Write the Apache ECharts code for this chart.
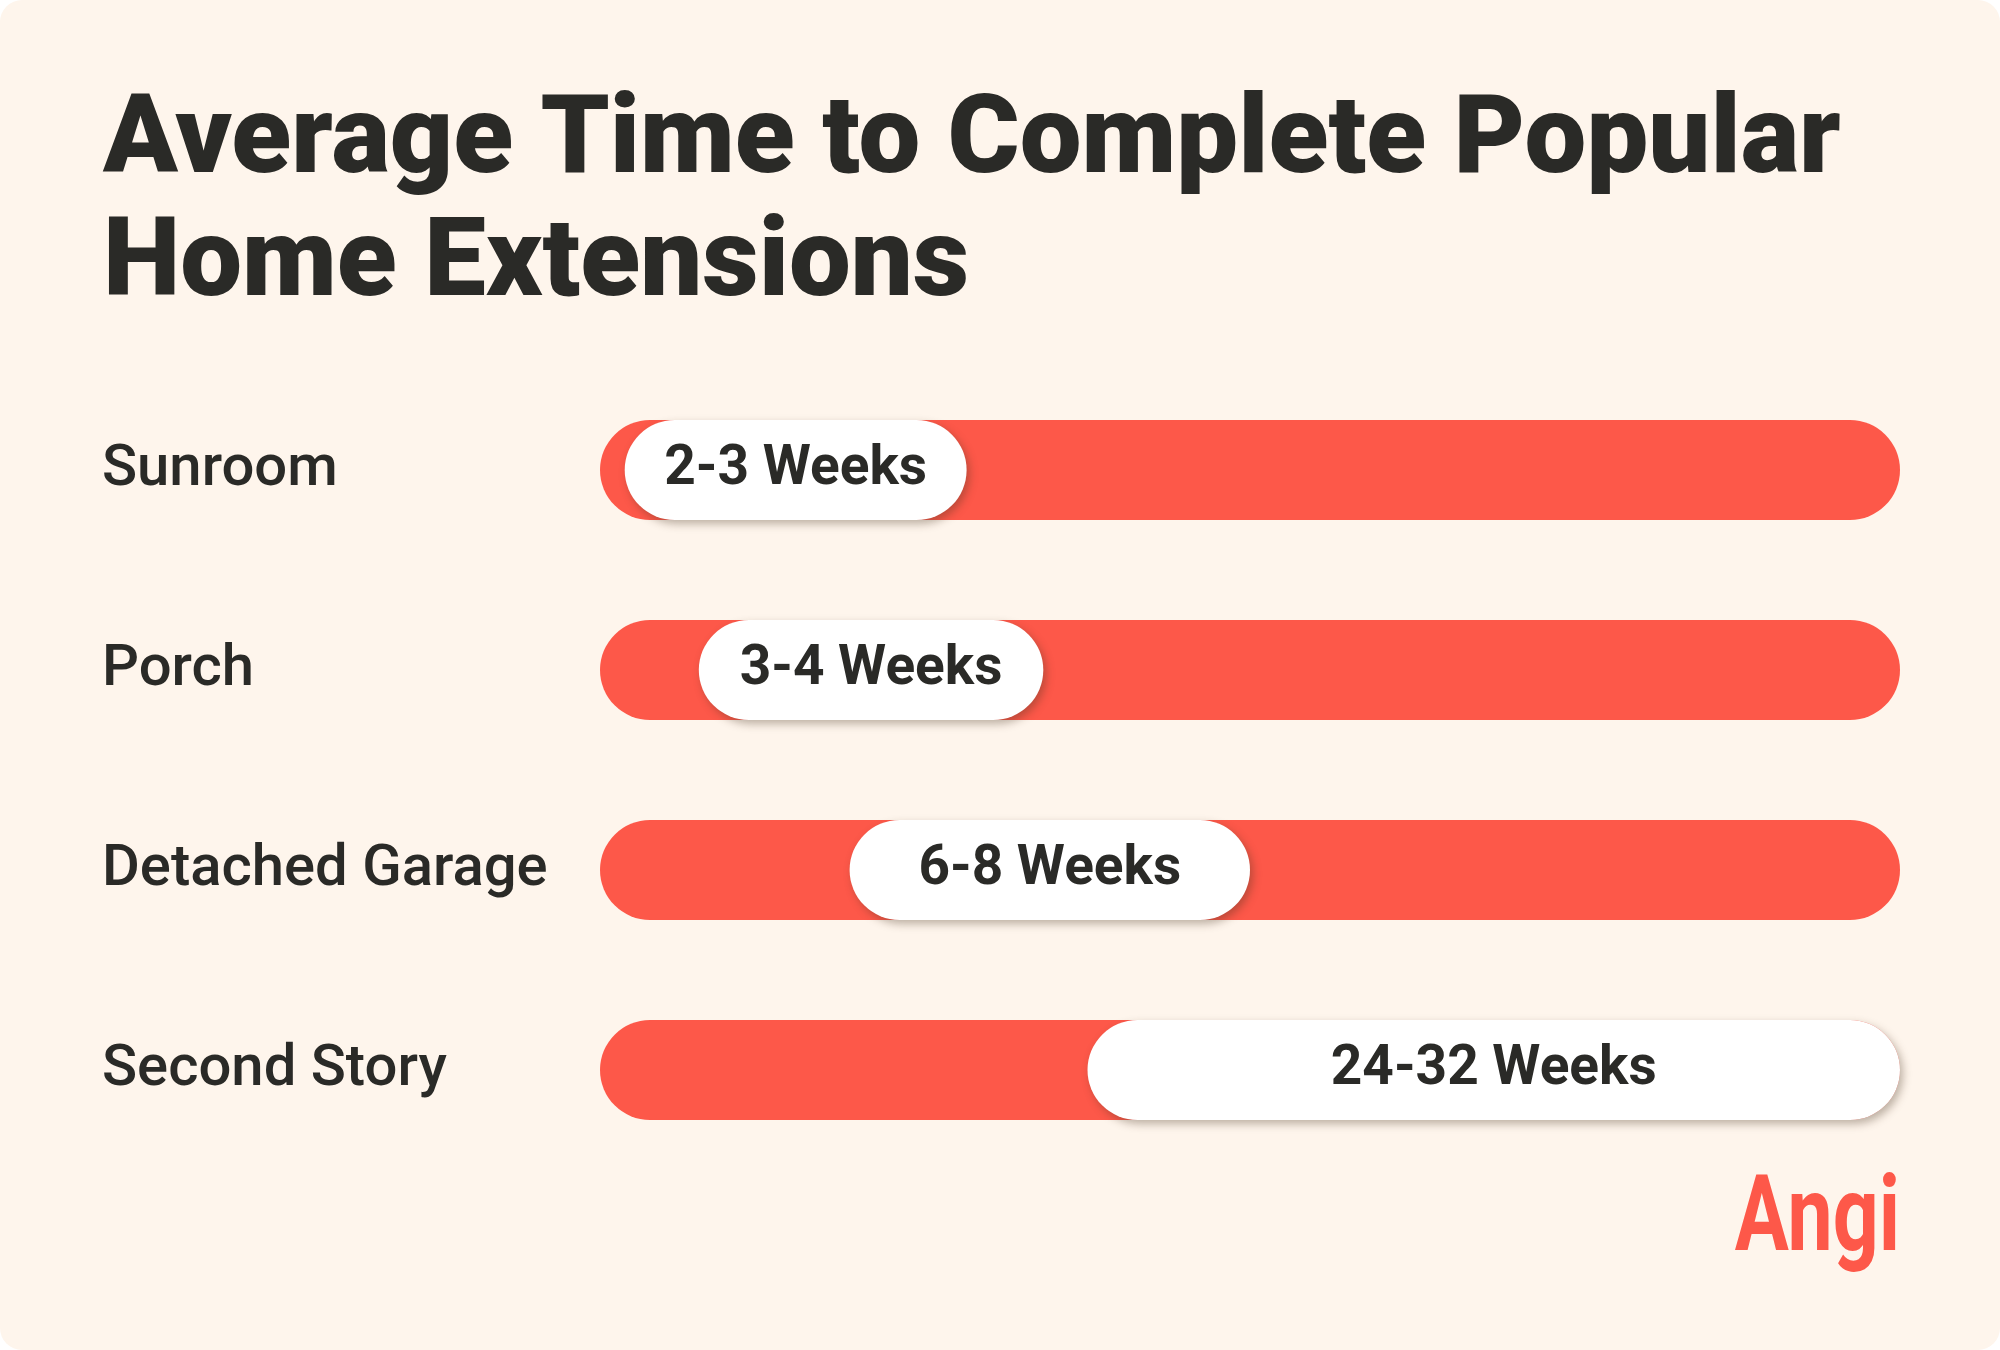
<!DOCTYPE html>
<html>
<head>
<meta charset="utf-8">
<script src="https://cdn.jsdelivr.net/npm/echarts@6/dist/echarts.min.js"></script>
<style>
  html, body { margin: 0; padding: 0; background: #ffffff; }
  #chart { width: 2000px; height: 1350px; border-radius: 22px; overflow: hidden; background: #FEF5EC; }
</style>
</head>
<body>
<div id="chart"></div>
<script>
// ---- data ----
const titleText = 'Average Time to Complete Popular\nHome Extensions';
const categories = ['Sunroom', 'Porch', 'Detached Garage', 'Second Story'];
const weeksLow = [2, 3, 6, 24];
const weeksHigh = [3, 4, 8, 32];
// pill extents, as percent of the full track
const trackMax = 100;
const pillStart = [1.9, 7.6, 19.2, 37.5];
const pillEnd = [28.2, 34.1, 50, 100];

const CORAL = '#FD5849';
const INK = '#2A2A27';

const chart = echarts.init(document.getElementById('chart'), null, { renderer: 'canvas' });

const option = {
  backgroundColor: 'transparent',
  animation: false,
  title: {
    text: titleText,
    left: 98,
    top: 78,
    textStyle: {
      fontFamily: 'Roboto',
      fontWeight: 900,
      fontSize: 110,
      lineHeight: 123,
      color: INK
    }
  },
  grid: { left: 600, right: 100, top: 370, bottom: 180, containLabel: false },
  xAxis: {
    type: 'value', min: 0, max: trackMax, show: false
  },
  yAxis: {
    type: 'category',
    data: categories,
    inverse: true,
    axisLine: { show: false },
    axisTick: { show: false },
    splitLine: { show: false },
    axisLabel: {
      align: 'left',
      margin: 498,
      padding: [12, 0, 0, 0],
      fontFamily: 'Roboto',
      fontWeight: 500,
      fontSize: 58,
      color: INK
    }
  },
  series: [
    {
      name: 'track',
      type: 'bar',
      barWidth: 100,
      barGap: '-100%',
      silent: true,
      itemStyle: { color: CORAL, borderRadius: 50 },
      data: categories.map(() => trackMax)
    },
    {
      name: 'offset',
      type: 'bar',
      stack: 'pill',
      barWidth: 100,
      barGap: '-100%',
      silent: true,
      itemStyle: { color: 'rgba(0,0,0,0)' },
      data: pillStart
    },
    {
      name: 'range',
      type: 'bar',
      stack: 'pill',
      barWidth: 100,
      barGap: '-100%',
      itemStyle: {
        color: '#FFFFFF',
        borderRadius: 50,
        shadowColor: 'rgba(70,50,30,0.35)',
        shadowBlur: 8,
        shadowOffsetX: 3,
        shadowOffsetY: 4
      },
      label: {
        show: true,
        position: 'inside',
        padding: [12, 0, 0, 0],
        formatter: (p) => weeksLow[p.dataIndex] + '-' + weeksHigh[p.dataIndex] + ' Weeks',
        fontFamily: 'Roboto',
        fontWeight: 700,
        fontSize: 55,
        color: INK
      },
      data: pillEnd.map((e, i) => +(e - pillStart[i]).toFixed(2))
    }
  ],
  graphic: [
    {
      type: 'text',
      x: 1900,
      y: 1170,
      scaleX: 0.76,
      style: {
        text: 'Angi',
        align: 'right',
        verticalAlign: 'top',
        font: 'bold 106px "Roboto"',
        fill: CORAL
      }
    }
  ]
};

chart.setOption(option);
</script>
</body>
</html>
